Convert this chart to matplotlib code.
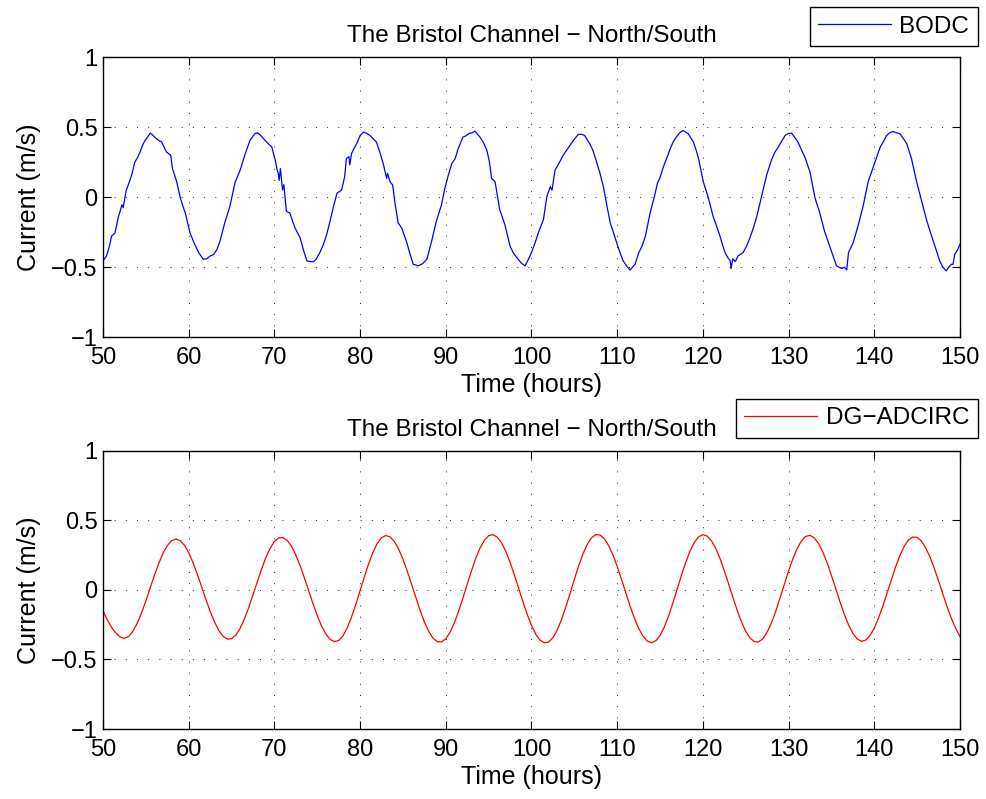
import numpy as np
import matplotlib
matplotlib.use("Agg")
import matplotlib.pyplot as plt

plt.rcParams['font.family'] = ['Liberation Sans', 'DejaVu Sans']

title = "The Bristol Channel \u2212 North/South"
xlabel = "Time (hours)"
ylabel = "Current (m/s)"
xticks = [50, 60, 70, 80, 90, 100, 110, 120, 130, 140, 150]
yticks = [-1, -0.5, 0, 0.5, 1]

bodc_time = [
    50.0, 50.4, 50.7, 51.0, 51.4, 51.8, 52.0, 52.2, 52.35, 52.7,
    53.15, 53.4, 53.7, 54.0, 54.3, 54.6, 54.9, 55.2, 55.5, 55.7,
    56.0, 56.4, 56.85, 57.1, 57.4, 57.9, 58.1, 58.6, 59.0, 59.3,
    59.6, 60.15, 60.7, 61.2, 61.7, 62.1, 62.5, 62.9, 63.3, 63.65,
    64.2, 64.8, 65.4, 66.0, 66.6, 67.15, 67.7, 68.0, 68.3, 68.7,
    69.1, 69.7, 70.1, 70.3, 70.45, 70.55, 70.7, 70.95, 71.1, 71.4,
    71.8, 72.4, 73.0, 73.4, 73.8, 74.2, 74.55, 74.9, 75.3, 75.7,
    76.1, 76.5, 76.9, 77.3, 77.85, 78.2, 78.4, 78.7, 78.8, 79.0,
    79.3, 79.6, 80.0, 80.4, 80.8, 81.15, 81.5, 81.9, 82.3, 82.7,
    83.1, 83.2, 83.5, 83.8, 84.1, 84.45, 84.85, 85.4, 85.8, 86.2,
    86.8, 87.3, 87.8, 88.35, 88.9, 89.5, 89.9, 90.3, 90.7, 91.1,
    91.45, 92.0, 92.4, 92.8, 93.1, 93.4, 93.7, 94.0, 94.4, 94.8,
    95.1, 95.35, 95.75, 96.0, 96.3, 96.9, 97.5, 97.9, 98.3, 98.8,
    99.25, 99.6, 100.0, 100.4, 100.8, 101.4, 101.8, 102.2, 102.4, 102.75,
    103.3, 103.7, 104.1, 104.5, 104.9, 105.45, 105.8, 106.2, 106.8, 107.2,
    107.6, 108.0, 108.4, 108.8, 109.2, 109.6, 109.95, 110.3, 110.7, 111.1,
    111.5, 111.8, 112.1, 112.5, 112.9, 113.3, 113.85, 114.4, 114.7, 115.0,
    115.4, 115.8, 116.2, 116.5, 116.9, 117.3, 117.7, 118.0, 118.3, 118.9,
    119.2, 119.5, 120.05, 120.6, 121.2, 121.95, 122.3, 122.6, 122.9, 123.2,
    123.3, 123.5, 123.8, 124.1, 124.7, 125.1, 125.5, 125.9, 126.3, 126.9,
    127.45, 128.0, 128.4, 128.8, 129.2, 129.6, 130.0, 130.35, 130.7, 131.1,
    131.5, 131.9, 132.5, 133.1, 133.65, 134.2, 134.8, 135.2, 135.6, 136.2,
    136.5, 136.8, 137.0, 137.55, 138.1, 138.7, 139.3, 139.9, 140.3, 140.7,
    141.1, 141.45, 141.8, 142.2, 142.6, 143.0, 143.4, 143.8, 144.35, 144.95,
    145.5, 146.1, 146.5, 146.9, 147.3, 147.65, 148.0, 148.4, 148.7, 149.0,
    149.2, 149.4, 149.7, 150.0,
]
bodc_current = [
    -0.455, -0.42, -0.36, -0.278, -0.255, -0.137, -0.10, -0.054, -0.075, 0.047,
    0.123, 0.17, 0.25, 0.28, 0.32, 0.37, 0.405, 0.43, 0.458, 0.45,
    0.43, 0.41, 0.394, 0.36, 0.323, 0.30, 0.205, 0.11, 0.0, -0.06,
    -0.113, -0.255, -0.337, -0.40, -0.443, -0.44, -0.42, -0.41, -0.373, -0.314,
    -0.184, -0.066, 0.104, 0.193, 0.311, 0.406, 0.453, 0.46, 0.448, 0.42,
    0.394, 0.358, 0.264, 0.20, 0.17, 0.12, 0.205, 0.052, 0.09, -0.101,
    -0.113, -0.219, -0.29, -0.38, -0.455, -0.46, -0.462, -0.44, -0.396, -0.34,
    -0.267, -0.17, -0.066, 0.028, 0.052, 0.146, 0.276, 0.29, 0.23, 0.311,
    0.35, 0.382, 0.44, 0.465, 0.455, 0.441, 0.42, 0.394, 0.323, 0.24,
    0.134, 0.17, 0.11, 0.087, -0.054, -0.184, -0.219, -0.314, -0.40, -0.479,
    -0.49, -0.475, -0.443, -0.314, -0.172, -0.054, 0.064, 0.158, 0.24, 0.276,
    0.347, 0.429, 0.44, 0.458, 0.46, 0.472, 0.45, 0.429, 0.39, 0.335,
    0.25, 0.134, 0.111, 0.02, -0.09, -0.196, -0.349, -0.40, -0.432, -0.47,
    -0.49, -0.45, -0.396, -0.33, -0.255, -0.16, 0.005, 0.075, 0.05, 0.193,
    0.252, 0.30, 0.335, 0.37, 0.406, 0.448, 0.45, 0.441, 0.382, 0.33,
    0.252, 0.17, 0.075, -0.06, -0.184, -0.26, -0.325, -0.39, -0.455, -0.49,
    -0.521, -0.50, -0.479, -0.40, -0.35, -0.278, -0.113, 0.017, 0.099, 0.14,
    0.217, 0.28, 0.347, 0.39, 0.429, 0.46, 0.476, 0.465, 0.453, 0.394,
    0.34, 0.276, 0.111, 0.005, -0.137, -0.267, -0.34, -0.396, -0.43, -0.455,
    -0.51, -0.44, -0.46, -0.42, -0.396, -0.35, -0.29, -0.22, -0.137, 0.017,
    0.158, 0.264, 0.32, 0.358, 0.40, 0.441, 0.455, 0.458, 0.43, 0.394,
    0.34, 0.288, 0.182, -0.007, -0.113, -0.243, -0.349, -0.42, -0.49, -0.51,
    -0.50, -0.519, -0.396, -0.325, -0.208, -0.066, 0.111, 0.217, 0.29, 0.358,
    0.40, 0.441, 0.46, 0.469, 0.46, 0.453, 0.42, 0.382, 0.276, 0.111,
    -0.019, -0.16, -0.24, -0.314, -0.39, -0.455, -0.50, -0.526, -0.50, -0.479,
    -0.48, -0.408, -0.38, -0.337,
]

# DG-ADCIRC model output, every half hour from 50 to 150 h
model_time = np.arange(50, 150.25, 0.5)
model_current = [
    -0.151, -0.215, -0.270, -0.310, -0.338, -0.348, -0.334, -0.296, -0.238, -0.164,
    -0.078, 0.014, 0.106, 0.191, 0.264, 0.319, 0.355, 0.367, 0.355, 0.322,
    0.268, 0.197, 0.114, 0.024, -0.067, -0.153, -0.229, -0.290, -0.333, -0.353,
    -0.351, -0.324, -0.276, -0.208, -0.127, -0.035, 0.059, 0.150, 0.232, 0.300,
    0.348, 0.375, 0.377, 0.356, 0.314, 0.252, 0.175, 0.087, -0.006, -0.098,
    -0.184, -0.259, -0.317, -0.355, -0.371, -0.364, -0.330, -0.272, -0.195, -0.104,
    -0.005, 0.095, 0.189, 0.271, 0.335, 0.376, 0.392, 0.382, 0.349, 0.294,
    0.222, 0.136, 0.042, -0.054, -0.146, -0.229, -0.297, -0.345, -0.372, -0.374,
    -0.351, -0.304, -0.237, -0.153, -0.058, 0.041, 0.138, 0.227, 0.302, 0.357,
    0.390, 0.398, 0.380, 0.340, 0.279, 0.200, 0.110, 0.014, -0.083, -0.175,
    -0.254, -0.318, -0.361, -0.380, -0.375, -0.344, -0.289, -0.214, -0.124, -0.026,
    0.075, 0.172, 0.257, 0.327, 0.375, 0.398, 0.396, 0.369, 0.321, 0.253,
    0.171, 0.078, -0.019, -0.114, -0.200, -0.275, -0.331, -0.367, -0.379, -0.366,
    -0.328, -0.267, -0.188, -0.095, 0.004, 0.104, 0.198, 0.279, 0.342, 0.382,
    0.398, 0.388, 0.355, 0.300, 0.227, 0.140, 0.045, -0.052, -0.145, -0.228,
    -0.296, -0.345, -0.372, -0.374, -0.351, -0.305, -0.238, -0.155, -0.060, 0.038,
    0.135, 0.223, 0.297, 0.352, 0.385, 0.393, 0.375, 0.335, 0.274, 0.197,
    0.107, 0.012, -0.083, -0.173, -0.250, -0.311, -0.351, -0.369, -0.361, -0.329,
    -0.275, -0.203, -0.117, -0.022, 0.074, 0.166, 0.248, 0.314, 0.359, 0.381,
    0.379, 0.353, 0.305, 0.239, 0.158, 0.068, -0.027, -0.119, -0.203, -0.274,
    -0.334,
]

TICK_FS = 17
TEXT_FS = 17.5
LABEL_FS = 18

fig = plt.figure(figsize=(9.86, 7.99), dpi=100)
ax1 = fig.add_axes([0.1045, 0.578, 0.869, 0.3504])
ax2 = fig.add_axes([0.1045, 0.0876, 0.869, 0.348])

panels = [
    (ax1, bodc_time, bodc_current, 'blue', 'BODC', 1.179),
    (ax2, model_time, model_current, 'red', 'DG\u2212ADCIRC', 1.187),
]

for ax, t, v, color, name, leg_top in panels:
    ax.plot(t, v, color=color, linewidth=0.9, label=name)
    ax.set_xlim(50, 150)
    ax.set_ylim(-1, 1)
    ax.set_xticks(xticks)
    ax.set_yticks(yticks)
    ax.set_yticklabels(['\u22121', '\u22120.5', '0', '0.5', '1'])
    ax.tick_params(direction='in', top=True, right=True, length=5.5, width=0.8,
                   labelsize=TICK_FS, pad=4)
    ax.tick_params(axis='x', pad=7)
    ax.grid(True, color='0.15', linestyle=(0, (1, 10.5)), linewidth=0.7)
    for s in ax.spines.values():
        s.set_linewidth(1.0)
    ax.set_title(title, fontsize=TEXT_FS, pad=11)
    ax.set_xlabel(xlabel, fontsize=LABEL_FS, labelpad=3)
    ax.set_ylabel(ylabel, fontsize=LABEL_FS, labelpad=7)
    leg = ax.legend(loc='upper right', bbox_to_anchor=(1.021, leg_top),
                    fontsize=TEXT_FS, fancybox=False, framealpha=1, edgecolor='black',
                    borderaxespad=0, borderpad=0.35, handlelength=3.0,
                    handletextpad=0.35)
    leg.get_frame().set_linewidth(1.0)

fig.savefig('out.png', dpi=100)
